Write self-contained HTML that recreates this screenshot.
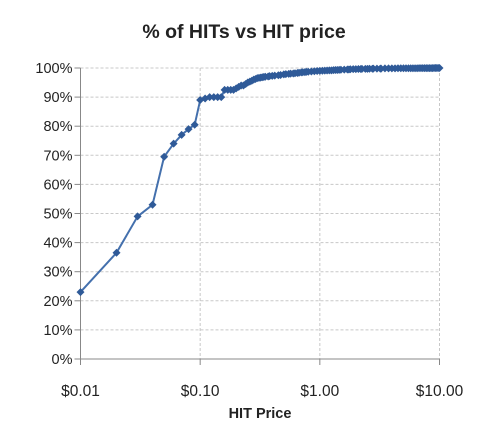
<!DOCTYPE html>
<html><head><meta charset="utf-8"><style>
body{margin:0;background:#fff;}
svg text{font-family:"Liberation Sans",sans-serif;fill:#222;}
</style></head><body>
<svg id="chart" width="499" height="440" viewBox="0 0 499 440">
<text x="244" y="38" text-anchor="middle" font-size="19.5" font-weight="bold">% of HITs vs HIT price</text>
<g id="grid"></g><g id="axes"></g><g id="series"></g>
<text x="260" y="418" text-anchor="middle" font-size="14.5" font-weight="bold">HIT Price</text>
</svg>
<script>
const prices=[0.01,0.02,0.03,0.04,0.05,0.06,0.07,0.08,0.09,0.10,0.11,0.12,0.13,0.14,0.15,0.16,0.17,0.18,0.19,0.20,0.21,0.22,0.23,0.24,0.25,0.26,0.27,0.28,0.29,0.30,0.31,0.32,0.33,0.34,0.35,0.37,0.38,0.40,0.42,0.45,0.47,0.50,0.52,0.55,0.57,0.60,0.62,0.65,0.67,0.70,0.72,0.75,0.77,0.80,0.85,0.90,0.95,1.00,1.05,1.10,1.15,1.20,1.25,1.30,1.35,1.40,1.45,1.50,1.60,1.70,1.75,1.80,1.90,2.00,2.10,2.20,2.25,2.40,2.50,2.60,2.75,2.80,3.00,3.20,3.25,3.50,3.75,4.00,4.25,4.50,4.75,5.00,5.25,5.50,5.75,6.00,6.25,6.50,6.75,7.00,7.25,7.50,7.75,8.00,8.25,8.50,8.75,9.00,9.25,9.50,9.75,10.00];
const percents=[23,36.5,49,53,69.5,74,77,79,80.5,89,89.5,90,90,90,90,92.5,92.5,92.5,92.5,93,93.5,94,94,94.5,95,95.3,95.6,96,96.2,96.5,96.6,96.7,96.8,96.9,97,97.1,97.2,97.3,97.4,97.5,97.6,97.8,97.9,98,98.05,98.1,98.2,98.3,98.35,98.5,98.55,98.6,98.65,98.7,98.8,98.9,98.95,99,99.05,99.1,99.15,99.2,99.2,99.25,99.3,99.3,99.35,99.4,99.45,99.5,99.5,99.55,99.6,99.6,99.65,99.65,99.7,99.7,99.7,99.75,99.75,99.8,99.8,99.8,99.8,99.85,99.85,99.85,99.85,99.9,99.9,99.9,99.9,99.9,99.9,99.9,99.9,99.9,99.95,99.95,99.95,99.95,99.95,99.95,99.95,99.95,99.95,100,100,100,100,100];
const yTicks=[0,10,20,30,40,50,60,70,80,90,100];
const xTicks=[0.01,0.1,1,10];
const xTickLabels=["$0.01","$0.10","$1.00","$10.00"];
const X0=80.5,X1=439.5,Y0=359,Y1=68;
const x=v=>X0+(Math.log10(v)+2)/3*(X1-X0);
const y=v=>Y0-v/100*(Y0-Y1);
const NS="http://www.w3.org/2000/svg";
function mk(t,a,p){const e=document.createElementNS(NS,t);for(const k in a)e.setAttribute(k,a[k]);p.appendChild(e);return e;}
const g=document.getElementById('grid'),ax=document.getElementById('axes'),s=document.getElementById('series');
yTicks.forEach(v=>{
 if(v>0){const l=mk('line',{x1:X0,x2:X1,y1:y(v),y2:y(v),stroke:'#c8c8c8','stroke-dasharray':'3,2'},g);
 
 }
 const t=mk('line',{x1:X0-6,x2:X0,y1:y(v),y2:y(v),stroke:'#888'},ax);
 
 
 const tx=mk('text',{x:X0-8,y:y(v)+5,'text-anchor':'end','font-size':'14.5'},ax);tx.textContent=v+'%';
 
 
});
xTicks.forEach((v,i)=>{
 if(i>0){const l=mk('line',{x1:x(v),x2:x(v),y1:Y1,y2:Y0,stroke:'#c8c8c8','stroke-dasharray':'3,2'},g);
 
 }
 const t=mk('line',{x1:x(v),x2:x(v),y1:Y0,y2:Y0+6,stroke:'#888'},ax);
 
 
 const tx=mk('text',{x:x(v),y:396,'text-anchor':'middle','font-size':'15.5'},ax);tx.textContent=xTickLabels[i];
 
 
});
const ya=mk('line',{x1:X0,x2:X0,y1:Y1,y2:Y0,stroke:'#888'},ax);


const xa=mk('line',{x1:X0,x2:X1,y1:Y0,y2:Y0,stroke:'#888'},ax);


const pts=prices.map((p,i)=>x(p).toFixed(1)+','+y(percents[i]).toFixed(1)).join(' ');
const line=mk('polyline',{points:pts,fill:'none',stroke:'#4470ad','stroke-width':'2'},s);


prices.forEach((p,i)=>{
 const cx=x(p),cy=y(percents[i]);
 const m=mk('polygon',{points:`${cx},${cy-4} ${cx+4},${cy} ${cx},${cy+4} ${cx-4},${cy}`,fill:'#2f5a98'},s);
 
 
});
</script>
</body></html>
